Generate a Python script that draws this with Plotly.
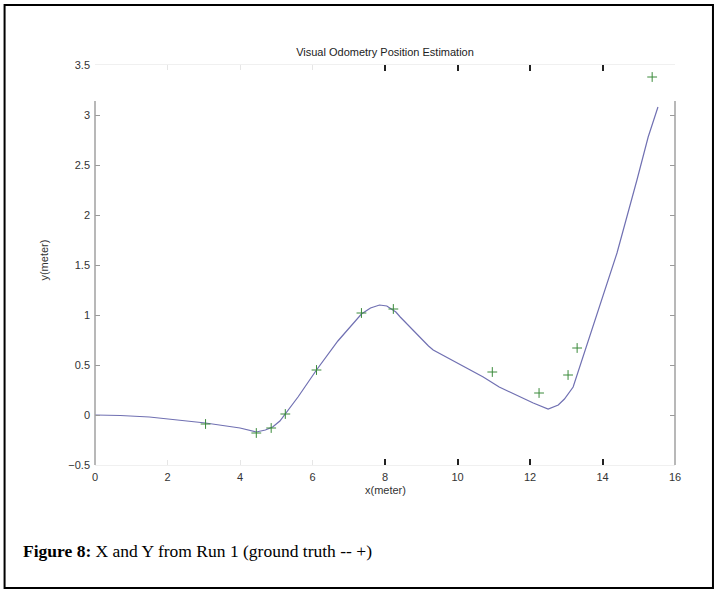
import plotly.graph_objects as go

# Estimated trajectory (visual odometry)
x_est = [0.0, 0.7, 1.5, 2.36, 3.05, 4.0, 4.45, 4.7, 4.9, 5.1, 5.25, 5.6, 6.11, 6.7,
         7.35, 7.6, 7.85, 8.05, 8.3, 8.42, 9.2, 9.33, 10.71, 11.15, 12.09, 12.5,
         12.78, 12.95, 13.19, 13.46, 13.93, 14.4, 14.95, 15.26, 15.53]
y_est = [0.0, -0.005, -0.02, -0.05, -0.08, -0.13, -0.17, -0.15, -0.12, -0.06, 0.01, 0.18,
         0.45, 0.74, 1.01, 1.07, 1.10, 1.09, 1.03, 0.98, 0.69, 0.65, 0.38, 0.28, 0.12,
         0.06, 0.10, 0.16, 0.28, 0.58, 1.08, 1.62, 2.35, 2.78, 3.08]

# Ground truth (+)
x_gt = [3.05, 4.45, 4.86, 5.25, 6.11, 7.35, 8.23, 10.96, 12.25, 13.05, 13.30, 15.37]
y_gt = [-0.09, -0.18, -0.13, 0.01, 0.45, 1.02, 1.06, 0.43, 0.22, 0.40, 0.67, 3.38]

x_ticks = [0, 2, 4, 6, 8, 10, 12, 14, 16]
x_dark_ticks = [8, 10, 12, 14]
y_ticks = [-0.5, 0, 0.5, 1, 1.5, 2, 2.5, 3, 3.5]
y_tick_text = ["\u22120.5", "0", "0.5", "1", "1.5", "2", "2.5", "3", "3.5"]

W, H = 717, 591
L, R, T, B = 94.5, 675, 65, 465  # plot area in pixels


def px_x(p):
    return (p - L) / (R - L)


def px_y(p):
    return (B - p) / (B - T)


fig = go.Figure()
fig.add_trace(go.Scatter(x=x_est, y=y_est, mode="lines",
                         line=dict(color="#7070b2", width=1.2), hoverinfo="skip"))
fig.add_trace(go.Scatter(x=x_gt, y=y_gt, mode="markers",
                         marker=dict(symbol="cross-thin", size=7,
                                     line=dict(color="#3a8a3a", width=1)),
                         hoverinfo="skip"))
fig.add_trace(go.Scatter(x=x_gt, y=y_gt, mode="markers", xaxis="x2",
                         marker=dict(opacity=0), hoverinfo="skip"))

tickfont = dict(family="Liberation Sans, Arial", size=11, color="#333333")

fig.update_layout(
    width=W, height=H,
    margin=dict(l=L, r=W - R, t=T, b=H - B, pad=0),
    paper_bgcolor="white", plot_bgcolor="white",
    showlegend=False,
    title=dict(text="Visual Odometry Position Estimation",
               font=dict(family="Liberation Sans, Arial", size=11, color="#222222"),
               x=0.5, xref="paper", xanchor="center",
               y=1 - 52 / H, yanchor="middle"),
    xaxis=dict(range=[0, 16], tickvals=x_ticks, ticks="inside", ticklen=5,
               tickcolor="#e6e6e6", mirror="ticks", showline=True,
               linecolor="#f0f0f0", linewidth=1, showgrid=False, zeroline=False,
               tickfont=tickfont, ticklabelstandoff=2),
    xaxis2=dict(range=[0, 16], overlaying="x", anchor="y", tickvals=x_dark_ticks,
                ticks="inside", ticklen=6, tickcolor="#222222", tickwidth=1.5,
                mirror="ticks", showticklabels=False, showline=False,
                showgrid=False, zeroline=False),
    yaxis=dict(range=[-0.5, 3.5], tickvals=y_ticks, ticktext=y_tick_text,
               ticks="inside", ticklen=5, tickcolor="#9a9a9a", mirror="ticks",
               showline=False, showgrid=False, zeroline=False,
               tickfont=tickfont, ticklabelstandoff=4),
)

# partial frame (left and right spines)
for xp in (0, 1):
    fig.add_shape(type="line", xref="paper", yref="y", x0=xp, x1=xp,
                  y0=-0.5, y1=3.14, line=dict(color="#a0a0a0", width=1.5))

# axis titles
fig.add_annotation(text="x(meter)", xref="paper", yref="paper",
                   x=0.5, y=px_y(490), xanchor="center", yanchor="middle",
                   showarrow=False, font=dict(family="Liberation Sans, Arial",
                                              size=11, color="#333333"))
fig.add_annotation(text="y(meter)", xref="paper", yref="paper", textangle=-90,
                   x=px_x(43), y=px_y(260), xanchor="center", yanchor="middle",
                   showarrow=False, font=dict(family="Liberation Sans, Arial",
                                              size=11, color="#333333"))

# caption
fig.add_annotation(text="<b>Figure 8:</b> X and Y from Run 1 (ground truth -- +)",
                   xref="paper", yref="paper", x=px_x(20), y=px_y(551),
                   xanchor="left", yanchor="middle", showarrow=False,
                   font=dict(family="Liberation Serif, Times New Roman", size=17.5,
                             color="black"))

# outer border
fig.add_shape(type="rect", xref="paper", yref="paper",
              x0=px_x(4), x1=px_x(713), y0=px_y(588), y1=px_y(5),
              line=dict(color="black", width=2))

fig.write_html("out.html")
